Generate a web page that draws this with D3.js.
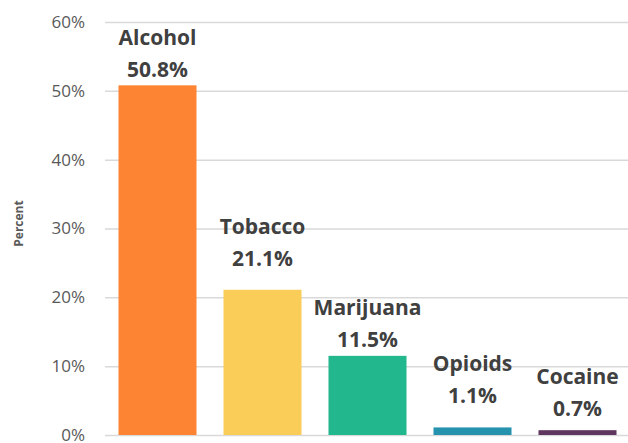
<!DOCTYPE html>
<html>
<head>
<meta charset="utf-8">
<script src="https://cdn.jsdelivr.net/npm/d3@7"></script>
<style>
    body { margin: 0; background: #fff; }
    svg { display: block; }
</style>
</head>
<body>
<div id="chart-container"></div>
<script>
// Chart data
var substances = ["Alcohol", "Tobacco", "Marijuana", "Opioids", "Cocaine"];
var percents = [50.8, 21.1, 11.5, 1.1, 0.7];
var yTicks = [0, 10, 20, 30, 40, 50, 60];
var barColors = ["#fd8432", "#facd58", "#22b78d", "#2592ae", "#5f3660"];

// gap between bar top and its label (px), labels were placed by hand in the original
var labelGap = [8, 24, 9, 24, 14];

var margin = { top: 22, right: -2, bottom: 8, left: 105 },
    width = 628 - margin.left - margin.right,
    height = 443 - margin.top - margin.bottom;

var svg = d3.select("#chart-container")
    .append("svg")
    .attr("width", 628)
    .attr("height", 443)
    .append("g")
    .attr("transform", "translate(" + margin.left + "," + margin.top + ")");

var x = d3.scaleBand()
    .domain(substances)
    .range([0, width])
    .paddingInner(0.257)
    .paddingOuter(0.1285);

var y = d3.scaleLinear()
    .domain([0, 60])
    .range([height, 0]);

// Gridlines
svg.append("g")
    .attr("class", "grid")
    .call(d3.axisLeft(y).tickValues(yTicks).tickSize(-width).tickFormat(""))
    .call(function (g) { g.select(".domain").remove(); })
    .selectAll("line")
    .attr("stroke", "#d9d9d9")
    .attr("stroke-width", 1.5);

// Y axis labels
svg.append("g")
    .call(d3.axisLeft(y).tickValues(yTicks).tickSize(0).tickPadding(20)
        .tickFormat(function (d) { return d + "%"; }))
    .call(function (g) { g.select(".domain").remove(); })
    .selectAll("text")
    .style("font-family", "Open Sans")
    .style("font-size", "17px")
    .attr("fill", "#595959");

// Y axis title
svg.append("text")
    .attr("transform", "translate(" + (-82) + "," + (y(30) - 5) + ")rotate(-90)")
    .attr("text-anchor", "middle")
    .style("font-family", "Open Sans")
    .style("font-size", "12px")
    .style("font-weight", "bold")
    .attr("fill", "#595959")
    .text("Percent");

// Bars
svg.selectAll(".bar")
    .data(substances)
    .enter()
    .append("rect")
    .attr("class", "bar")
    .attr("x", function (d) { return x(d); })
    .attr("y", function (d, i) { return y(percents[i]); })
    .attr("width", x.bandwidth())
    .attr("height", function (d, i) { return height - y(percents[i]); })
    .attr("fill", function (d, i) { return barColors[i]; });

// Labels
var labels = svg.selectAll(".label")
    .data(substances)
    .enter()
    .append("text")
    .attr("class", "label")
    .attr("text-anchor", "middle")
    .style("font-family", "Open Sans")
    .style("font-size", "21px")
    .style("font-weight", "bold")
    .attr("fill", "#404040");

labels.append("tspan")
    .attr("x", function (d) { return x(d) + x.bandwidth() / 2; })
    .attr("y", function (d, i) { return y(percents[i]) - labelGap[i] - 32; })
    .text(function (d) { return d; });

labels.append("tspan")
    .attr("x", function (d) { return x(d) + x.bandwidth() / 2; })
    .attr("y", function (d, i) { return y(percents[i]) - labelGap[i]; })
    .text(function (d, i) { return percents[i].toFixed(1) + "%"; });
</script>
</body>
</html>
